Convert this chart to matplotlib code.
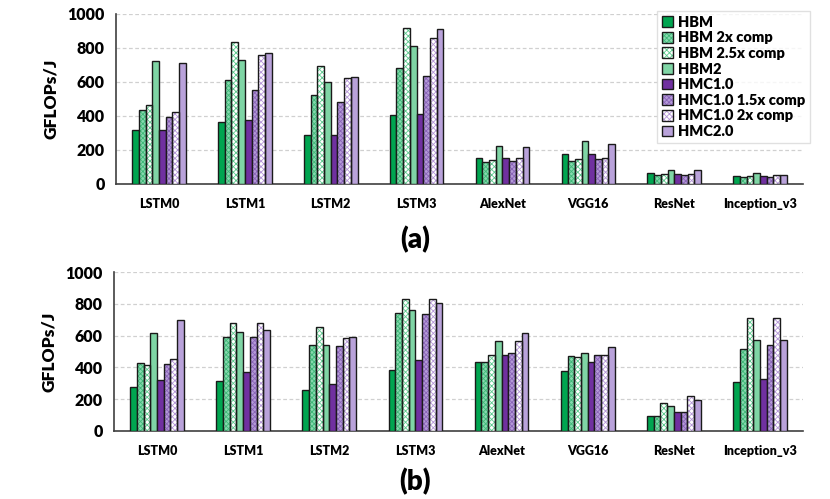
import matplotlib
matplotlib.use("Agg")
import matplotlib.pyplot as plt
import numpy as np
from matplotlib.patches import Patch
from matplotlib.legend_handler import HandlerTuple

plt.rcParams['font.family'] = ['Lato', 'DejaVu Sans']
plt.rcParams['font.weight'] = 'bold'
plt.rcParams['hatch.linewidth'] = 0.6

categories = ["LSTM0", "LSTM1", "LSTM2", "LSTM3", "AlexNet", "VGG16", "ResNet", "Inception_v3"]
series_names = ["HBM", "HBM 2x comp", "HBM 2.5x comp", "HBM2",
                "HMC1.0", "HMC1.0 1.5x comp", "HMC1.0 2x comp", "HMC2.0"]

# panel (a)
a_HBM      = [316, 363, 287, 406, 150, 175, 62, 49]
a_HBM2x    = [437, 609, 523, 684, 132, 138, 50, 43]
a_HBM25x   = [465, 834, 695, 920, 140, 146, 56, 47]
a_HBM2     = [723, 727, 600, 812, 223, 252, 82, 64]
a_HMC      = [320, 375, 289, 414, 150, 175, 58, 45]
a_HMC15x   = [396, 555, 480, 633, 138, 146, 52, 43]
a_HMC2x    = [424, 760, 625, 857, 150, 155, 60, 50]
a_HMC2     = [711, 770, 627, 910, 217, 237, 80, 54]

# panel (b)
b_HBM      = [274, 312, 259, 381, 433, 379, 94, 308]
b_HBM2x    = [427, 594, 540, 741, 433, 469, 94, 517]
b_HBM25x   = [416, 682, 657, 833, 479, 467, 176, 709]
b_HBM2     = [615, 625, 540, 759, 569, 492, 159, 571]
b_HMC      = [318, 370, 297, 444, 479, 433, 119, 324]
b_HMC15x   = [423, 592, 536, 738, 490, 479, 119, 542]
b_HMC2x    = [454, 678, 582, 833, 569, 479, 222, 711]
b_HMC2     = [701, 636, 594, 805, 619, 531, 197, 571]

panel_a = [a_HBM, a_HBM2x, a_HBM25x, a_HBM2, a_HMC, a_HMC15x, a_HMC2x, a_HMC2]
panel_b = [b_HBM, b_HBM2x, b_HBM25x, b_HBM2, b_HMC, b_HMC15x, b_HMC2x, b_HMC2]

# styles: (facecolor, hatch, hatchcolor)
styles = [
    ("#00A550", None, None),
    ("#86D9AE", "xxxxxxx", "#3FB878"),
    ("#FFFFFF", "xxxxxx", "#5CCB8E"),
    ("#7FD5A5", None, None),
    ("#7030A0", None, None),
    ("#B49AD8", "xxxxxxx", "#8A64B8"),
    ("#FFFFFF", "xxxxxx", "#B596D8"),
    ("#B9A2DA", None, None),
]

fig = plt.figure(figsize=(8.3, 4.99), dpi=100)
ax_a = fig.add_axes([0.1398, 0.6313, 0.8277, 0.3407])
ax_b = fig.add_axes([0.1373, 0.1363, 0.8302, 0.3186])

x = np.arange(len(categories))
w = 0.078
offsets = (np.arange(8) - 3.5) * w

def draw(ax, data):
    for i, vals in enumerate(data):
        fc, h, hc = styles[i]
        if h is None:
            ax.bar(x + offsets[i], vals, w, color=fc, edgecolor="#1a1a1a", linewidth=1.0, zorder=3)
        else:
            ax.bar(x + offsets[i], vals, w, facecolor=fc, edgecolor=hc, hatch=h, linewidth=0, zorder=3)
            ax.bar(x + offsets[i], vals, w, fill=False, edgecolor="#1a1a1a", linewidth=1.0, zorder=4)
    ax.set_xlim(-0.5, 7.5)
    ax.set_ylim(0, 1000)
    ax.set_yticks([0, 200, 400, 600, 800, 1000])
    ax.set_xticks(x)
    ax.set_xticklabels(categories, fontsize=9, fontweight='heavy')
    ax.tick_params(axis='y', labelsize=11.5, length=0, pad=8)
    for t in ax.get_yticklabels():
        t.set_fontweight('heavy')
    ax.tick_params(axis='x', length=0, pad=10)
    ax.grid(axis='y', linestyle=(0, (3, 2)), color="#d0d0d0", linewidth=0.9, zorder=0)
    for s in ['top', 'right']:
        ax.spines[s].set_visible(False)
    ax.spines['left'].set_color("#404040")
    ax.spines['bottom'].set_color("#404040")
    ax.spines['left'].set_linewidth(1.2)
    ax.spines['bottom'].set_linewidth(1.2)
    ax.set_ylabel("GFLOPs/J", fontsize=12.5, fontweight='heavy', labelpad=6)

draw(ax_a, panel_a)
draw(ax_b, panel_b)

handles = []
for fc, h, hc in styles:
    if h is None:
        handles.append(Patch(facecolor=fc, edgecolor="#1a1a1a", linewidth=1.0))
    else:
        handles.append((Patch(facecolor=fc, edgecolor=hc, hatch=h, linewidth=0),
                        Patch(fill=False, edgecolor="#1a1a1a", linewidth=1.0)))

leg = ax_a.legend(handles, series_names, handler_map={tuple: HandlerTuple(ndivide=1, pad=0)},
                  loc='upper right', bbox_to_anchor=(1.01, 1.02), fontsize=10.5,
                  frameon=True, fancybox=False, edgecolor="#d9d9d9",
                  handlelength=0.75, handleheight=0.75, handletextpad=0.3,
                  labelspacing=0.18, borderpad=0.35, borderaxespad=0)
leg.get_frame().set_linewidth(1.0)
for t in leg.get_texts():
    t.set_fontweight('heavy')

fig.text(0.5, 1 - 240 / 499, "(a)", ha='center', va='center', fontsize=20, fontweight='heavy')
fig.text(0.5, 1 - 482 / 499, "(b)", ha='center', va='center', fontsize=20, fontweight='heavy')

fig.savefig("out.png", dpi=100)
